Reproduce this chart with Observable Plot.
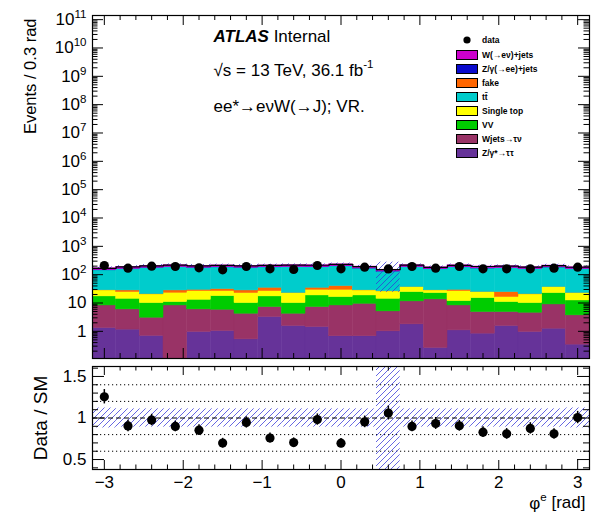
<!DOCTYPE html>
<html><head><meta charset="utf-8">
<script src="https://cdn.jsdelivr.net/npm/d3@7"></script>
<script src="https://cdn.jsdelivr.net/npm/@observablehq/plot@0.6"></script>
<style>
body{margin:0;background:#fff;}
#wrap{position:relative;width:606px;height:516px;background:#fff;font-family:"Liberation Sans",Arial,Helvetica,sans-serif;}
#wrap > svg{display:block;}
#legend{position:absolute;left:0;top:0;width:606px;height:200px;pointer-events:none;}
</style></head>
<body>
<svg width="0" height="0" style="position:absolute">
  <defs>
    <pattern id="hatch" patternUnits="userSpaceOnUse" width="6" height="6">
      <path d="M-1,1 L1,-1 M0,6 L6,0 M5,7 L7,5" stroke="#3434d8" stroke-width="1" stroke-opacity="0.75" fill="none"/>
    </pattern>
  </defs>
</svg>
<div id="wrap"></div>
<script>
// ---------- data ----------
const binCenters = [-3.0,-2.7,-2.4,-2.1,-1.8,-1.5,-1.2,-0.9,-0.6,-0.3,0.0,0.3,0.6,0.9,1.2,1.5,1.8,2.1,2.4,2.7,3.0];
const binWidth = 0.3;
const dataCounts = [211,170,200,194,175,148,194,161,152,211,161,184,159,194,170,194,161,161,161,170,184];
// backgrounds, stack order bottom -> top
const zTauTau   = [1.31,1.15,0.69,0,0.95,1.03,0.52,3.2,1.54,1.42,0.67,0.67,1.0,1.76,0.26,1.08,0.83,1.54,0.95,1.24,0.34];
const wTauNu    = [6.89,4.8,2.34,8.2,5.0,4.77,3.67,4.0,2.65,5.78,7.53,8.73,4.06,9.64,13.14,7.12,3.97,3.26,3.59,7.66,3.32];
const diboson   = [8.9,8.15,6.92,2.6,7.05,11.7,5.76,9.9,5.76,11.3,8.0,9.1,9.04,12.9,9.0,3.5,10.1,6.0,5.41,13.5,8.64];
const singleTop = [10.7,10.2,10.15,12.2,13.3,8.8,12.45,9.2,12.45,10.8,13.1,9.3,11.5,12.1,5.4,14.6,9.4,5.4,10.15,14.0,10.1];
const fake      = [0.3,3.5,0.4,4.8,3.0,4.7,5.4,8.2,0.4,5.2,10.2,0.3,0.3,0.4,0.3,3.0,0.4,8.1,0.4,0.4,0.4];
const ttbar     = [113.8,132.4,154.2,156.2,145.8,149.8,147.2,146.8,161.1,148.1,157.5,136.0,102.5,147.0,127.1,152.7,140.2,144.8,135.2,142.2,133.4];
const zEE       = [2.1,1.8,2.3,2.0,1.9,2.2,2.0,1.7,2.1,2.4,2.0,1.9,1.6,2.2,1.8,2.0,2.1,1.9,2.3,2.0,1.8];
const wENu      = [24,26,28,30,28,29,28,29,30,30,32,27,20,30,25,30,27,28,26,29,25];
const sysRelUnc = [0.12,0.11,0.11,0.11,0.11,0.11,0.11,0.11,0.11,0.11,0.11,0.11,0.84,0.11,0.11,0.11,0.11,0.11,0.11,0.11,0.12];

const layerNames  = ["Z/γ*→ττ","Wjets→τν","VV","Single top","fake","tt̄","Z/γ(→ee)+jets","W(→eν)+jets"];
const layerColors = ["#663399","#993366","#00cc00","#ffff00","#ff6600","#00cccc","#0a0acc","#cc00cc"];
const legendOrder = ["W(→eν)+jets","Z/γ(→ee)+jets","fake","tt̄","Single top","VV","Wjets→τν","Z/γ*→ττ"];

const xMajorTicks = [-3,-2,-1,0,1,2,3];
const mainYTicks = [1,10,1e2,1e3,1e4,1e5,1e6,1e7,1e8,1e9,1e10,1e11];
const ratioYTicks = [0.5,1,1.5];
const ratioGrid = [0.6,0.8,1.2,1.4];

const atlasText = "[b]ATLAS[/b] Internal";
const energyText = "√s = 13 TeV, 36.1 fb^{-1}";
const regionText = "ee*→eνW(→J); VR.";
const yTitleMain = "Events / 0.3 rad";
const yTitleRatio = "Data / SM";
const xTitle = "φ^{e} [rad]";

// ---------- derived tables ----------
const layerValues = [zTauTau,wTauNu,diboson,singleTop,fake,ttbar,zEE,wENu];
const FLOOR = 1e-3;
const stackRows = [];
const cum = binCenters.map(() => 0);
layerValues.forEach((vals, k) => {
  binCenters.forEach((c, i) => {
    const lo = cum[i], hi = lo + vals[i];
    stackRows.push({x1: c - binWidth/2, x2: c + binWidth/2, y1: Math.max(lo, FLOOR), y2: Math.max(hi, FLOOR), name: layerNames[k]});
    cum[i] = hi;
  });
});
const smTotal = cum.slice();
const edges = binCenters.map(c => c - binWidth/2).concat([binCenters[binCenters.length-1] + binWidth/2]);
const stepPts = edges.map((e, i) => ({x: e, y: smTotal[Math.min(i, smTotal.length-1)]}));
const binRows = binCenters.map((c, i) => ({
  x: c, x1: c - binWidth/2, x2: c + binWidth/2,
  n: dataCounts[i], err: Math.sqrt(dataCounts[i]), sm: smTotal[i], u: sysRelUnc[i]
}));

const xMinorTicks = d3.range(-15, 16).map(k => k*0.2).filter(v => Math.abs(v - Math.round(v)) > 1e-6 && Math.abs(v) < 3.15);
const mainYMinor = [];
for (let e = -1; e <= 11; e++) for (let k = 2; k <= 9; k++) { const v = k*Math.pow(10, e); if (v > 0.11 && v < 1.4e11) mainYMinor.push(v); }
const ratioYMinor = d3.range(4, 17).map(k => k/10).filter(v => ![0.5,1,1.5].some(m => Math.abs(m-v) < 1e-6));

const FONT = '"Liberation Sans", Arial, Helvetica, sans-serif';
const W = 497, HM = 343, HR = 103;

function frameTicks(xMaj, xMin, yMaj, yMin, H, xMajLen, xMinLen, yMajLen, yMinLen) {
  const s = {stroke: "black", strokeWidth: 1};
  return [
    Plot.ruleX(xMaj, {...s, insetTop: H - xMajLen}),
    Plot.ruleX(xMaj, {...s, insetBottom: H - xMajLen}),
    Plot.ruleX(xMin, {...s, insetTop: H - xMinLen}),
    Plot.ruleX(xMin, {...s, insetBottom: H - xMinLen}),
    Plot.ruleY(yMaj, {...s, insetRight: W - yMajLen}),
    Plot.ruleY(yMaj, {...s, insetLeft: W - yMajLen}),
    Plot.ruleY(yMin, {...s, insetRight: W - yMinLen}),
    Plot.ruleY(yMin, {...s, insetLeft: W - yMinLen})
  ];
}

const mainPlot = Plot.plot({
  width: 606, height: 362,
  marginLeft: 92, marginRight: 17, marginTop: 15, marginBottom: 4,
  style: {fontFamily: FONT, fontSize: "17px", background: "white", overflow: "visible", color: "black"},
  x: {domain: [-3.15, 3.15], axis: null, label: null},
  y: {type: "log", domain: [0.11, 1.4e11], ticks: mainYTicks, tickSize: 0, tickPadding: 6, label: null,
      tickFormat: d => d < 100 ? String(d) : "10^{" + Math.round(Math.log10(d)) + "}"},
  color: {domain: layerNames, range: layerColors},
  marks: [
    Plot.rect(stackRows, {x1: "x1", x2: "x2", y1: "y1", y2: "y2", fill: "name", stroke: "name", strokeWidth: 0.5, clip: true}),
    Plot.rect(binRows, {x1: "x1", x2: "x2", y1: d => d.sm*(1-d.u), y2: d => d.sm*(1+d.u), fill: "url(#hatch)", clip: true}),
    Plot.line(stepPts, {x: "x", y: "y", curve: "step-after", stroke: "black", strokeWidth: 1.2}),
    Plot.ruleX(binRows, {x: "x", y1: d => d.n - d.err, y2: d => d.n + d.err, stroke: "black", strokeWidth: 1.5}),
    Plot.dot(binRows, {x: "x", y: "n", r: 4.6, fill: "black"}),
    ...frameTicks(xMajorTicks, xMinorTicks, mainYTicks, mainYMinor, HM, 10, 5, 11, 5.5),
    Plot.frame({stroke: "black", strokeWidth: 1.2}),
    Plot.text([atlasText], {frameAnchor: "top-left", dx: 121, dy: 26, textAnchor: "start", lineAnchor: "bottom", fontSize: 17}),
    Plot.text([energyText], {frameAnchor: "top-left", dx: 121, dy: 60, textAnchor: "start", lineAnchor: "bottom", fontSize: 17}),
    Plot.text([regionText], {frameAnchor: "top-left", dx: 121, dy: 96, textAnchor: "start", lineAnchor: "bottom", fontSize: 17}),
    Plot.text([yTitleMain], {frameAnchor: "top-left", dx: -62, dy: 3, rotate: -90, textAnchor: "end", lineAnchor: "middle", fontSize: 16.5})
  ]
});

const ratioPlot = Plot.plot({
  width: 606, height: 154,
  marginLeft: 92, marginRight: 17, marginTop: 4, marginBottom: 47,
  style: {fontFamily: FONT, fontSize: "17px", background: "white", overflow: "visible", color: "black"},
  x: {domain: [-3.15, 3.15], ticks: xMajorTicks, tickSize: 0, tickPadding: 6, label: null, tickFormat: d3.format("d")},
  y: {domain: [0.38, 1.62], ticks: ratioYTicks, tickSize: 0, tickPadding: 6, label: null, tickFormat: d => String(d)},
  marks: [
    Plot.ruleY(ratioGrid, {stroke: "black", strokeWidth: 1, strokeDasharray: "1.2,2.8"}),
    Plot.rect(binRows, {x1: "x1", x2: "x2", y1: d => 1 - d.u, y2: d => 1 + d.u, fill: "url(#hatch)", clip: true}),
    Plot.ruleY([1], {stroke: "black", strokeWidth: 1, strokeDasharray: "5,3"}),
    Plot.ruleX(binRows, {x: "x", y1: d => (d.n - d.err)/d.sm, y2: d => (d.n + d.err)/d.sm, stroke: "black", strokeWidth: 1.5, clip: true}),
    Plot.dot(binRows, {x: "x", y: d => d.n/d.sm, r: 4.6, fill: "black", clip: true}),
    ...frameTicks(xMajorTicks, xMinorTicks, ratioYTicks, ratioYMinor, HR, 9, 4.5, 12, 6),
    Plot.frame({stroke: "black", strokeWidth: 1.2}),
    Plot.text([yTitleRatio], {frameAnchor: "left", dx: -52, rotate: -90, textAnchor: "middle", lineAnchor: "middle", fontSize: 19}),
    Plot.text([xTitle], {frameAnchor: "bottom-right", dx: -4, dy: 39, textAnchor: "end", lineAnchor: "bottom", fontSize: 17})
  ]
});

// rich text: ^{...} superscripts and [b]...[/b] bold italic
function richify(svg) {
  d3.select(svg).selectAll("text").each(function() {
    const t = this.textContent;
    if (!t.includes("^{") && !t.includes("[b]")) return;
    const re = /\^\{([^}]*)\}|\[b\]([\s\S]*?)\[\/b\]/g;
    const parts = []; let last = 0, m;
    while ((m = re.exec(t))) {
      if (m.index > last) parts.push({s: t.slice(last, m.index), kind: "n"});
      if (m[1] !== undefined) parts.push({s: m[1], kind: "sup"}); else parts.push({s: m[2], kind: "b"});
      last = re.lastIndex;
    }
    if (last < t.length) parts.push({s: t.slice(last), kind: "n"});
    const sel = d3.select(this); sel.text(null);
    let raised = false;
    for (const p of parts) {
      const ts = sel.append("tspan").text(p.s);
      if (p.kind === "sup") { ts.attr("font-size", "0.68em").attr("dy", "-0.62em"); raised = true; }
      else {
        if (raised) { ts.attr("dy", "0.42em"); raised = false; }
        if (p.kind === "b") ts.attr("font-weight", "bold").attr("font-style", "italic");
      }
    }
  });
}
richify(mainPlot); richify(ratioPlot);

const wrap = document.getElementById("wrap");
wrap.appendChild(mainPlot);
wrap.appendChild(ratioPlot);

// legend
const colorOf = Object.fromEntries(layerNames.map((n, i) => [n, layerColors[i]]));
const leg = d3.select(wrap).append("svg").attr("id", "legend").attr("width", 606).attr("height", 200)
  .style("font-family", FONT).style("font-size", "8.5px").style("font-weight", "bold");
leg.append("circle").attr("cx", 467).attr("cy", 40).attr("r", 3.6).attr("fill", "black");
leg.append("text").attr("x", 482).attr("y", 40).attr("dy", "0.35em").text("data");
legendOrder.forEach((name, i) => {
  const y = 55 + i*14;
  leg.append("rect").attr("x", 456.5).attr("y", y - 4.5).attr("width", 21).attr("height", 9)
    .attr("fill", colorOf[name]).attr("stroke", "black").attr("stroke-width", 1);
  leg.append("text").attr("x", 482).attr("y", y).attr("dy", "0.35em").text(name);
});
</script>
</body></html>
